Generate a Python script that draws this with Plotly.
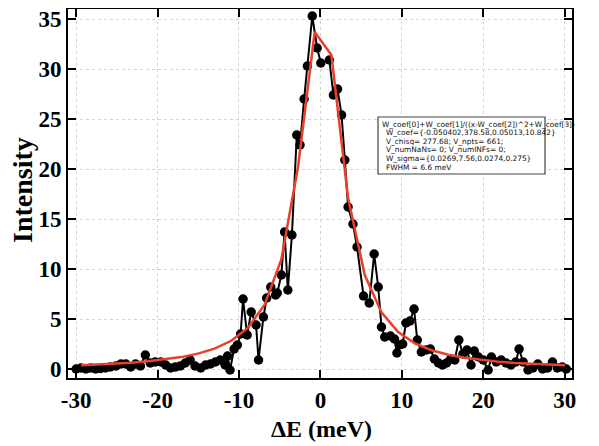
import plotly.graph_objects as go

# Measured data points (ΔE in meV, intensity)
data_x = [-30.0, -29.4, -28.8, -28.2, -27.6, -27.0, -26.4, -25.8, -25.1, -24.5,
          -23.9, -23.3, -22.7, -22.1, -21.5, -20.9, -20.3, -19.6, -19.0, -18.4,
          -17.8, -17.2, -16.6, -16.0, -15.4, -14.7, -14.1, -13.5, -12.9, -12.3,
          -11.7, -11.4, -11.1, -10.6, -10.2, -9.8, -9.5, -9.0, -8.5, -7.9,
          -7.6, -7.0, -6.6, -6.1, -5.5, -5.3, -4.8, -4.4, -4.0, -3.5,
          -2.9, -2.5, -2.0, -1.6, -1.0, -0.4, 0.05, 1.1, 1.6, 2.1,
          2.6, 3.0, 3.4, 4.0, 4.5, 5.3, 6.0, 6.6, 7.1, 7.5,
          7.9, 8.6, 9.1, 9.4, 9.7, 10.1, 10.5, 11.0, 11.5, 11.9,
          12.4, 13.0, 13.5, 14.0, 14.5, 15.0, 15.5, 16.0, 16.5, 17.0,
          17.5, 18.0, 18.5, 18.9, 19.4, 20.0, 20.6, 21.0, 21.6, 22.2,
          22.8, 23.4, 24.0, 24.4, 24.9, 25.5, 26.1, 26.7, 27.3, 27.9,
          28.5, 29.1, 29.7, 30.2]
data_y = [0.0, 0.1, 0.0, 0.1, 0.0, 0.05, 0.1, 0.2, 0.3, 0.5,
          0.5, 0.2, 0.5, 0.3, 1.4, 0.6, 0.7, 0.7, 0.4, 0.1,
          0.2, 0.3, 0.6, 0.9, 0.3, 0.1, 0.4, 0.5, 0.7, 0.9,
          0.4, 1.3, -0.1, 2.0, 2.4, 3.5, 7.0, 3.4, 5.7, 4.4,
          0.9, 5.2, 7.1, 8.2, 7.4, 7.6, 9.4, 13.7, 7.9, 13.4,
          23.4, 22.4, 27.0, 30.3, 35.3, 32.1, 30.6, 30.9, 27.4, 28.0,
          25.4, 20.9, 16.2, 14.5, 12.2, 7.3, 6.6, 11.5, 8.2, 4.2,
          3.2, 3.3, 3.0, 1.6, 2.4, 2.5, 4.6, 4.8, 6.0, 2.9,
          1.7, 1.9, 2.0, 1.0, 0.6, 0.4, 0.6, 1.0, 0.9, 2.9,
          1.5, 1.9, 0.4, 1.8, 1.2, 0.9, -0.1, 1.2, 0.7, 0.9,
          0.6, 0.4, 0.7, 2.0, 0.7, -0.1, 0.1, 0.5, 0.0, 0.1,
          0.7, 0.1, 0.2, 0.0]

# Lorentzian fit curve, read at coarse sample points
fit_x = [-29.4, -27.35, -25.3, -23.25, -21.2, -19.15, -17.1, -15.05, -13.0, -10.95,
         -8.9, -6.85, -4.8, -2.75, -0.7, 1.35, 3.4, 5.45, 7.5, 9.55,
         11.6, 13.65, 15.7, 17.75, 19.8, 21.85, 23.9, 25.95, 28.0, 30.05]
fit_y = [0.38, 0.45, 0.53, 0.63, 0.77, 0.95, 1.19, 1.54, 2.04, 2.82,
         4.11, 6.43, 10.95, 20.2, 33.7, 31.4, 17.1, 9.4, 5.66, 3.69,
         2.57, 1.88, 1.43, 1.12, 0.89, 0.73, 0.60, 0.51, 0.43, 0.37]

x_ticks = [-30, -20, -10, 0, 10, 20, 30]
y_ticks = [0, 5, 10, 15, 20, 25, 30, 35]

fit_lines = [
    "W_coef[0]+W_coef[1]/((x-W_coef[2])^2+W_coef[3])",
    "W_coef={-0.050402,378.58,0.05013,10.842}",
    "V_chisq= 277.68; V_npts= 661;",
    "V_numNaNs= 0; V_numINFs= 0;",
    "W_sigma={0.0269,7.56,0.0274,0.275}",
    "FWHM = 6.6 meV",
]

# page body has an 8px margin; the figure is sized so the plot lands
# where it is in the 599x446 reference
OFF = 8
W, H = 599 - OFF, 446 - OFF
# plot frame in page pixels: left 68, right 572, top 9, bottom 378
L, R, T, B = 68 - OFF, W - (572 - OFF), 9 - OFF, H - (378 - OFF)
pw, ph = W - L - R, H - T - B


def px(xp):
    return (xp - OFF - L) / pw


def py(yp):
    return (H - B - (yp - OFF)) / ph


fig = go.Figure()
fig.add_trace(go.Scatter(
    x=data_x, y=data_y, mode="lines+markers",
    line=dict(color="black", width=2),
    marker=dict(color="black", size=9.5),
    showlegend=False, cliponaxis=False,
))
fig.add_trace(go.Scatter(
    x=fit_x, y=fit_y, mode="lines",
    line=dict(color="#e8402a", width=2.5),
    showlegend=False,
))

serif = "Liberation Serif"
common = dict(
    showline=True, linecolor="black", linewidth=2, mirror="ticks",
    ticks="inside", ticklen=8, tickwidth=1.5, tickcolor="black",
    showgrid=True, gridcolor="#d4d4d4", griddash="dot", gridwidth=1,
    zeroline=False, automargin=False, ticklabeloverflow="allow",
    tickfont=dict(family=serif, size=23, color="black"),
)
fig.update_xaxes(range=[-31, 30.9], tickvals=x_ticks,
                 ticktext=["<b>%d</b>" % v for v in x_ticks], **common)
fig.update_yaxes(range=[-0.9, 36], tickvals=y_ticks,
                 ticktext=["<b>%d</b>" % v for v in y_ticks], **common)

# axis titles
fig.add_annotation(text="<b>ΔE (meV)</b>", xref="paper", yref="paper",
                   x=px(321), y=py(429), xanchor="center", yanchor="middle",
                   showarrow=False, font=dict(family=serif, size=24, color="black"))
fig.add_annotation(text="<b>Intensity</b>", xref="paper", yref="paper",
                   x=px(22), y=py(190), xanchor="center", yanchor="middle",
                   textangle=-90, showarrow=False,
                   font=dict(family=serif, size=28, color="black"))

fig.add_shape(type="rect", xref="paper", yref="paper",
              x0=px(378), x1=px(545), y0=py(174), y1=py(117),
              line=dict(color="#444444", width=1.2), fillcolor="white", layer="above")

line_y = [124, 132.6, 141.2, 149.8, 158.4, 167]
for i, (txt, yy) in enumerate(zip(fit_lines, line_y)):
    fig.add_annotation(
        text=txt, xref="paper", yref="paper",
        x=px(380 if i == 0 else 384), y=py(yy),
        xanchor="left", yanchor="middle", showarrow=False,
        font=dict(family="DejaVu Sans", size=7.4, color="#111111"),
    )

fig.update_layout(
    width=W, height=H,
    margin=dict(l=L, r=R, t=T, b=B),
    plot_bgcolor="white", paper_bgcolor="white",
)

fig.write_html("out.html")
